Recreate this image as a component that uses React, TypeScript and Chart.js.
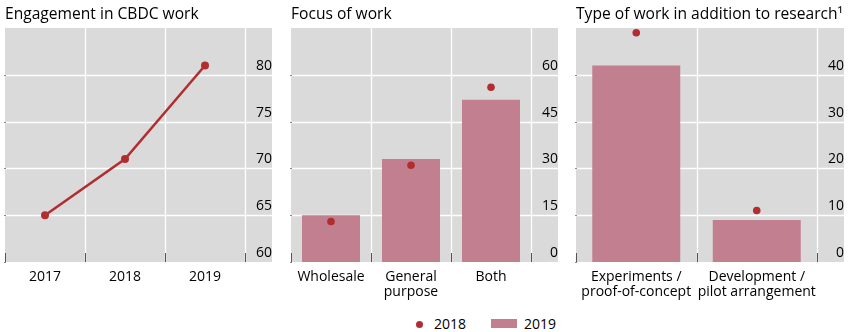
import React, { useEffect, useRef } from 'react';
import { Chart, registerables } from 'chart.js';

Chart.register(...registerables);

const FONT = "'Open Sans', 'Noto Sans', sans-serif";
const RED = '#b22d30';
const PINK = '#c27f8f';
const GREY = '#dadada';

// Panel 1: Engagement in CBDC work
const engagementTitle = 'Engagement in CBDC work';
const engagementYears = ['2017', '2018', '2019'];
const engagementValues = [65, 71, 81];
const engagementAxis = { min: 60, max: 85, step: 5 };

// Panel 2: Focus of work
const focusTitle = 'Focus of work';
const focusCategories: (string | string[])[] = ['Wholesale', ['General', 'purpose'], 'Both'];
const focus2018 = [13, 31, 56];
const focus2019 = [15, 33, 52];
const focusAxis = { min: 0, max: 75, step: 15 };

// Panel 3: Type of work in addition to research
const typeTitle = 'Type of work in addition to research\u00B9';
const typeCategories: (string | string[])[] = [
  ['Experiments /', 'proof-of-concept'],
  ['Development /', 'pilot arrangement'],
];
const type2018 = [49, 11];
const type2019 = [42, 9];
const typeAxis = { min: 0, max: 50, step: 10 };

const legendLabels = ['2018', '2019'];

const panelPlugin = {
  id: 'panelBg',
  beforeDraw(chart: any) {
    const { ctx, chartArea } = chart;
    const { left, top, right, bottom } = chartArea;
    const y = chart.scales.y;
    const x = chart.scales.x;
    const fullRight = y.right;
    ctx.save();
    ctx.fillStyle = GREY;
    ctx.fillRect(left, top, fullRight - left, bottom - top);
    ctx.strokeStyle = '#ffffff';
    ctx.lineWidth = 1.3;
    y.ticks.forEach((t: any) => {
      if (t.value === y.max || t.value === y.min) return;
      const py = Math.round(y.getPixelForValue(t.value)) + 0.5;
      ctx.beginPath();
      ctx.moveTo(left, py);
      ctx.lineTo(fullRight, py);
      ctx.stroke();
    });
    const n = x.ticks.length;
    const slot = (right - left) / n;
    for (let i = 1; i <= n; i++) {
      const px = Math.round(left + slot * i) + 0.5;
      ctx.beginPath();
      ctx.moveTo(px, top);
      ctx.lineTo(px, bottom);
      ctx.stroke();
    }
    ctx.restore();
  },
  afterDraw(chart: any) {
    const { ctx, chartArea } = chart;
    const { left, right, bottom } = chartArea;
    const x = chart.scales.x;
    const y = chart.scales.y;
    const n = x.ticks.length;
    const slot = (right - left) / n;
    ctx.save();
    ctx.strokeStyle = '#555555';
    ctx.lineWidth = 1;
    for (let i = 0; i <= n; i++) {
      const px = Math.round(left + slot * i) + 0.5;
      ctx.beginPath();
      ctx.moveTo(px, bottom - 9);
      ctx.lineTo(px, bottom);
      ctx.stroke();
    }
    ctx.strokeStyle = '#888888';
    y.ticks.forEach((t: any) => {
      if (t.value === y.max) return;
      const py = Math.round(y.getPixelForValue(t.value)) + 0.5;
      ctx.beginPath();
      ctx.moveTo(left - 1, py);
      ctx.lineTo(left + 1, py);
      ctx.stroke();
    });
    ctx.restore();
  },
};

function baseOptions(title: string, axis: { min: number; max: number; step: number }, padLeft: number, padRight: number) {
  return {
    responsive: false,
    animation: false,
    layout: { padding: { left: padLeft, right: padRight, top: 0, bottom: 0 } },
    plugins: {
      legend: { display: false },
      tooltip: { enabled: false },
      title: {
        display: true,
        text: title,
        align: 'start',
        color: '#000000',
        font: { family: FONT, size: 15.6, weight: 'normal', lineHeight: 1.2 },
        padding: { top: 5.5, bottom: 3.8 },
      },
    },
    scales: {
      x: {
        type: 'category',
        offset: true,
        grid: { display: false, drawTicks: false },
        border: { display: false },
        ticks: {
          color: '#000000',
          font: { family: FONT, size: 14, lineHeight: 1.05 },
          padding: 8,
          maxRotation: 0,
          autoSkip: false,
        },
        afterFit: (s: any) => {
          s.height = 38;
        },
      },
      y: {
        position: 'right',
        min: axis.min,
        max: axis.max,
        grid: { display: false, drawTicks: false },
        border: { display: false },
        ticks: {
          stepSize: axis.step,
          color: '#000000',
          font: { family: FONT, size: 14 },
          padding: 8,
          crossAlign: 'far',
          labelOffset: -9,
          callback: (v: number) => (v === axis.max ? '' : String(v)),
        },
        afterFit: (s: any) => {
          s.width = 27;
        },
      },
    },
  };
}

function useChart(ref: React.RefObject<HTMLCanvasElement>, build: () => any) {
  useEffect(() => {
    if (!ref.current) return;
    const chart = new Chart(ref.current, build());
    return () => chart.destroy();
  }, []);
}

function EngagementPanel() {
  const ref = useRef<HTMLCanvasElement>(null);
  useChart(ref, () => ({
    type: 'line',
    data: {
      labels: engagementYears,
      datasets: [
        {
          label: 'Engagement',
          data: engagementValues,
          borderColor: RED,
          backgroundColor: RED,
          borderWidth: 2.5,
          pointRadius: 4,
          pointBackgroundColor: RED,
          pointBorderWidth: 0,
          tension: 0,
        },
      ],
    },
    options: baseOptions(engagementTitle, engagementAxis, 5, 12),
    plugins: [panelPlugin],
  }));
  return <canvas ref={ref} width={284} height={300} style={{ position: 'absolute', left: 0, top: 0 }} />;
}

function BarPanel(props: {
  title: string;
  categories: (string | string[])[];
  v2018: number[];
  v2019: number[];
  axis: { min: number; max: number; step: number };
  left: number;
  padLeft: number;
  padRight: number;
  barPct: number;
}) {
  const ref = useRef<HTMLCanvasElement>(null);
  useChart(ref, () => ({
    type: 'bar',
    data: {
      labels: props.categories,
      datasets: [
        {
          type: 'line',
          label: legendLabels[0],
          data: props.v2018,
          showLine: false,
          pointRadius: 3.8,
          pointBackgroundColor: RED,
          pointBorderWidth: 0,
          borderColor: RED,
          backgroundColor: RED,
        },
        {
          type: 'bar',
          label: legendLabels[1],
          data: props.v2019,
          backgroundColor: PINK,
          borderWidth: 0,
          categoryPercentage: 1,
          barPercentage: props.barPct,
        },
      ],
    },
    options: baseOptions(props.title, props.axis, props.padLeft, props.padRight),
    plugins: [panelPlugin],
  }));
  return <canvas ref={ref} width={284} height={300} style={{ position: 'absolute', left: props.left, top: 0 }} />;
}

export default function App() {
  const textStyle: React.CSSProperties = {
    position: 'absolute',
    top: 314,
    height: 20,
    lineHeight: '20px',
    fontFamily: FONT,
    fontSize: 14,
    color: '#000',
    whiteSpace: 'nowrap',
  };
  return (
    <div style={{ position: 'fixed', left: 0, top: 0, width: 852, height: 332, background: '#fff', overflow: 'hidden' }}>
      <EngagementPanel />
      <BarPanel
        title={focusTitle}
        categories={focusCategories}
        v2018={focus2018}
        v2019={focus2019}
        axis={focusAxis}
        left={284}
        padLeft={7}
        padRight={10}
        barPct={0.725}
      />
      <BarPanel
        title={typeTitle}
        categories={typeCategories}
        v2018={type2018}
        v2019={type2019}
        axis={typeAxis}
        left={568}
        padLeft={8}
        padRight={8}
        barPct={0.73}
      />
      <div
        style={{ position: 'absolute', left: 415.5, top: 320.5, width: 7.5, height: 7.5, borderRadius: '50%', background: RED }}
      />
      <div style={{ ...textStyle, left: 434 }}>{legendLabels[0]}</div>
      <div style={{ position: 'absolute', left: 491, top: 319, width: 26, height: 9, background: PINK }} />
      <div style={{ ...textStyle, left: 524 }}>{legendLabels[1]}</div>
    </div>
  );
}
